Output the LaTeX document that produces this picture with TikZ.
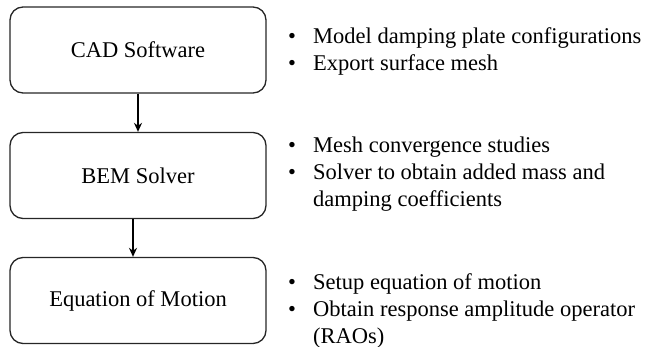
\documentclass[tikz,border=0pt]{standalone}
\usepackage{fontspec}
\setmainfont{Liberation Serif}
\usetikzlibrary{arrows.meta}
\begin{document}
\begin{tikzpicture}[x=1pt,y=-1pt,
  stepbox/.style={draw=black!85, line width=1.3pt, rounded corners=13pt, minimum width=256pt, minimum height=86pt, inner sep=0pt, font=\fontsize{22.5}{27}\selectfont},
  bullets/.style={anchor=west, inner sep=0pt, align=left, font=\fontsize{22.5}{27}\selectfont},
  conn/.style={line width=1.4pt, -{Stealth[length=9pt,width=8pt]}}]
\useasboundingbox (0,0) rectangle (653,347);
\node[stepbox] (cad) at (138,50) {\raisebox{-3pt}{CAD Software}};
\node[stepbox] (bem) at (138,175.5) {\raisebox{-1pt}{BEM Solver}};
\node[stepbox] (eom) at (138,300.5) {\raisebox{-8pt}{Equation of Motion}};
\draw[conn] ([xshift=0pt]cad.south) -- ([xshift=0pt]bem.north);
\draw[conn] ([xshift=-5pt]bem.south) -- ([xshift=-5pt]eom.north);
\newcommand{\bul}{\makebox[25pt][l]{\textbullet}}
\newcommand{\ind}{\hspace*{25pt}}
\node[bullets] (t1) at (288,51.5) {\bul Model damping plate configurations\\ \bul Export surface mesh};
\node[bullets] (t2) at (288,174) {\bul Mesh convergence studies\\ \bul Solver to obtain added mass and\\ \ind damping coefficients};
\node[bullets] (t3) at (288,310.5) {\bul Setup equation of motion\\ \bul Obtain response amplitude operator\\ \ind (RAOs)};
\end{tikzpicture}
\end{document}
